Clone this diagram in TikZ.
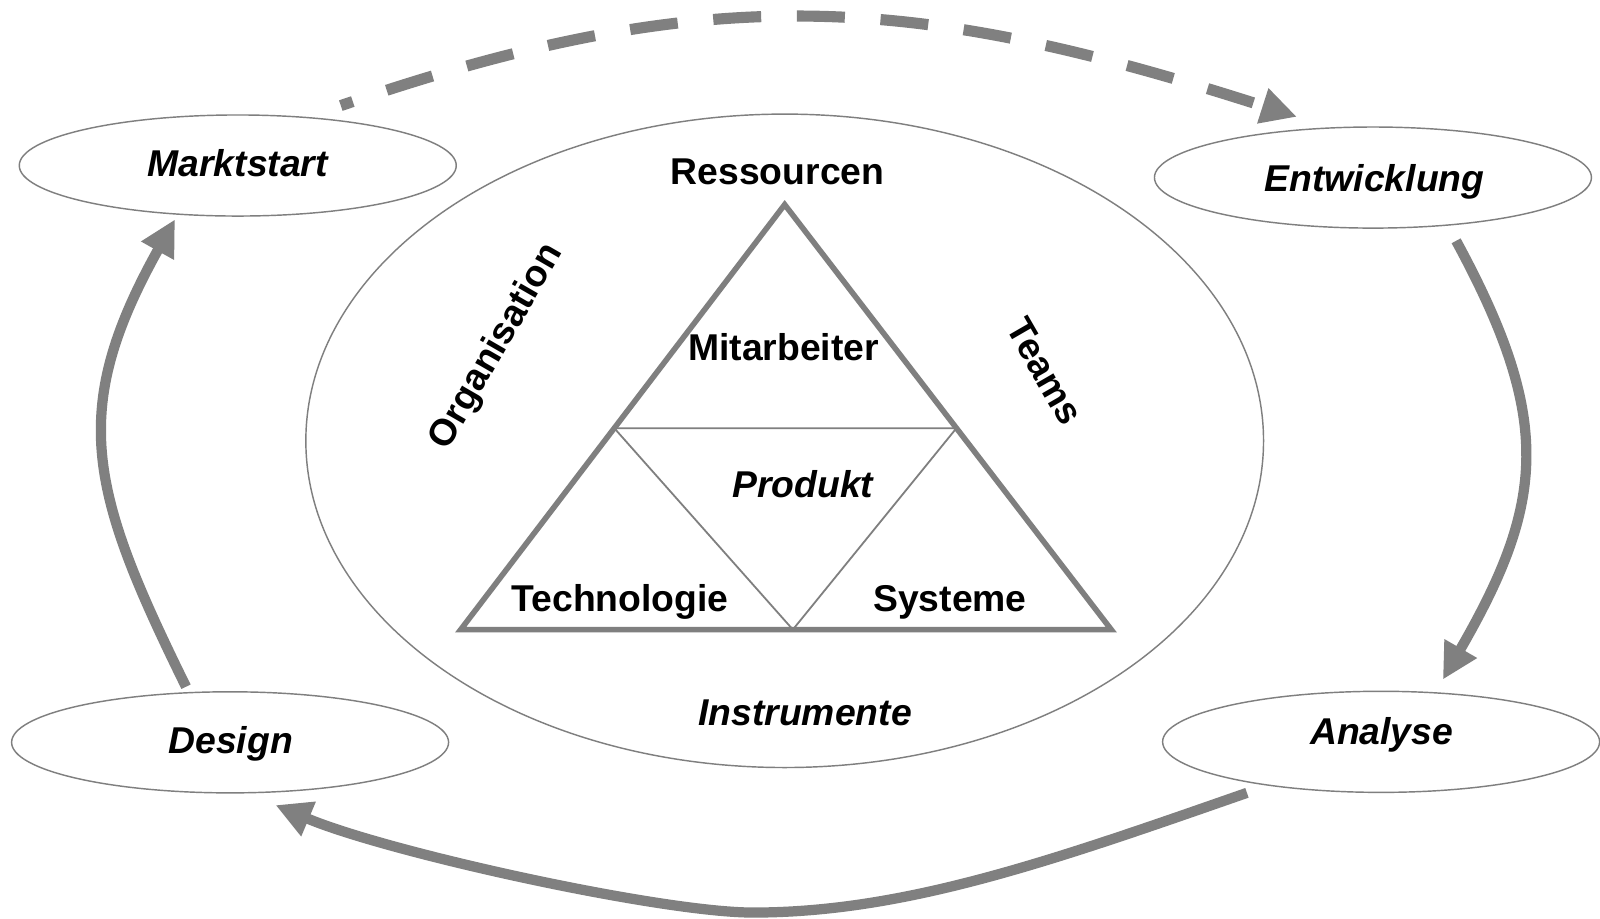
\documentclass[tikz,border=0pt]{standalone}
\usepackage{fontspec}
\setmainfont{Liberation Sans}
\usetikzlibrary{shapes.geometric,arrows.meta,calc}
\definecolor{arrowgray}{HTML}{808080}
\definecolor{linegray}{HTML}{7F7F7F}
\tikzset{
  phase/.style={ellipse, draw=linegray, line width=0.4pt, minimum width=4.28cm, minimum height=0.99cm, inner sep=0pt},
  ring/.style={ellipse, draw=linegray, line width=0.4pt, minimum width=9.38cm, minimum height=6.40cm, inner sep=0pt},
  lbl/.style={font=\fontsize{10.4}{12}\selectfont\bfseries, anchor=base, inner sep=0pt},
  ilbl/.style={lbl, font=\fontsize{10.4}{12}\selectfont\bfseries\itshape},
  rlbl/.style={font=\fontsize{10.4}{12}\selectfont\bfseries, anchor=center, inner sep=0pt},
  flow/.style={draw=arrowgray, line width=2.85pt, -{Triangle[length=10pt,width=9.8pt]}},
  dashflow/.style={draw=arrowgray, line width=3.1pt, dash pattern=on 13.37pt off 9.96pt, dash phase=9.84pt, -{Triangle[length=10pt,width=9.6pt]}},
  triout/.style={draw=linegray, line width=1.55pt},
  triin/.style={draw=linegray, line width=0.5pt}
}
\begin{document}
\begin{tikzpicture}[x=0.01cm, y=-0.01cm]
\fill[white] (0,0) rectangle (1568,900);
\useasboundingbox (0,0) rectangle (1568,900);

% outer ring
\node[ring] (ring) at (769,432) {};

% phase ellipses
\node[phase] (markt) at (233,162.2) {};
\node[phase] (entw) at (1345.5,174) {};
\node[phase] (design) at (225.5,727.5) {};
\node[phase] (analyse) at (1353.5,727) {};

\node[ilbl] (tmarkt) at (233,173) {Marktstart};
\node[ilbl] (tentw) at (1347,188) {Entwicklung};
\node[ilbl] (tdesign) at (226,738) {Design};
\node[ilbl] (tanalyse) at (1354,730) {Analyse};

% triangle
\coordinate (apex) at (769,200.5);
\coordinate (bl) at (451.5,617);
\coordinate (br) at (1089,617);
\coordinate (ml) at (602,419.6);
\coordinate (mr) at (937.3,419.6);
\coordinate (mb) at (777,617);
\draw[triin] (ml) -- (mr) -- (mb) -- cycle;
\draw[triout] (apex) -- (bl) -- (br) -- cycle;

% inner labels
\node[lbl] (res) at (762,181) {Ressourcen};
\node[lbl] (mit) at (768,353.5) {Mitarbeiter};
\node[ilbl] (prod) at (786.8,488) {Produkt};
\node[lbl] (tech) at (607.6,599) {Technologie};
\node[lbl] (sys) at (931,599) {Systeme};
\node[ilbl] (instr) at (789,711) {Instrumente};
\node[rlbl, rotate=60] (org) at (487,340) {Organisation};
\node[rlbl, rotate=-60] (teams) at (1024,364) {Teams};

% connectors
\draw[dashflow] ($(markt.center)+(101,-58.7)$) .. controls +(366.9,-126.3) and +(-369.8,-118.7) .. ($(entw.center)+(-74.5,-59.5)$);
\draw[flow] ($(entw.center)+(81.5,62)$) .. controls +(95.4,175.8) and +(100,-173.2) .. ($(analyse.center)+(60.5,-61)$);
\coordinate (low) at (738,894.3);
\draw[flow] ($(analyse.center)+(-131.5,50)$) .. controls +(-188.8,65.8) and +(150,0) .. (low)
  .. controls +(-90,0) and +(110.6,46.6) .. ($(design.center)+(44.5,61.5)$);
\draw[flow] ($(design.center)+(-43.2,-54.5)$) .. controls +(-95,-192.9) and +(-104.7,187.7) .. ($(markt.center)+(-61.5,52.8)$);
\end{tikzpicture}
\end{document}
